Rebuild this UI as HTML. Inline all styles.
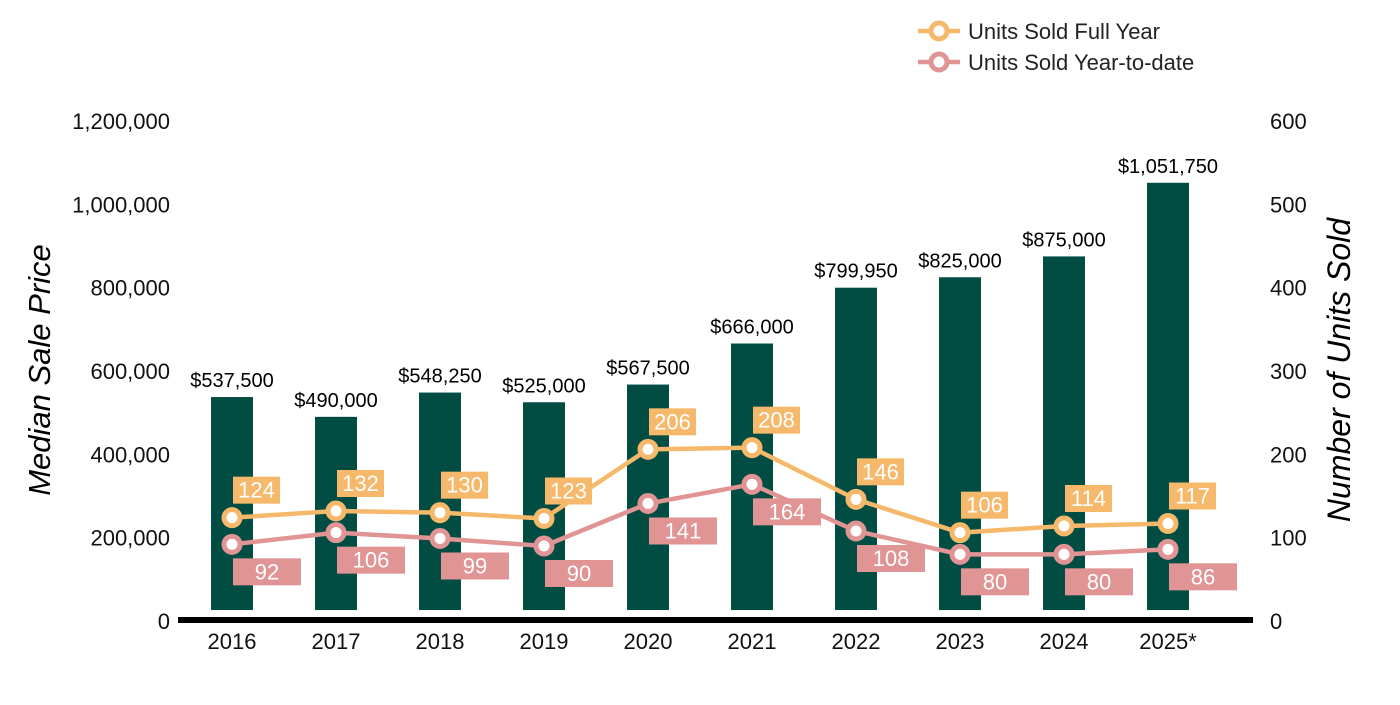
<!DOCTYPE html>
<html><head><meta charset="utf-8"><style>
body{margin:0;background:#fff;font-family:"Liberation Sans",Arial,sans-serif}
svg text{font-family:"Liberation Sans",Arial,sans-serif}
</style></head><body>
<svg width="1400" height="700" viewBox="0 0 1400 700">
<g id="g"></g>
</svg>
<script>
const years=["2016","2017","2018","2019","2020","2021","2022","2023","2024","2025*"];
const prices=[537500,490000,548250,525000,567500,666000,799950,825000,875000,1051750];
const fullYear=[124,132,130,123,206,208,146,106,114,117];
const ytd=[92,106,99,90,141,164,108,80,80,86];
const leftTicks=[0,200000,400000,600000,800000,1000000,1200000];
const rightTicks=[0,100,200,300,400,500,600];
const NS="http://www.w3.org/2000/svg";
const g=document.getElementById('g');
const Y0=621,H=500;
const yL=v=>Y0-v/1200000*H;
const yR=v=>Y0-v/600*H;
const xC=i=>232+i*104;
function el(t,a,txt){const e=document.createElementNS(NS,t);for(const k in a)e.setAttribute(k,a[k]);if(txt!=null)e.textContent=txt;g.appendChild(e);return e;}
const fmt=v=>v.toLocaleString('en-US');
leftTicks.forEach(v=>{const t=el('text',{x:170,y:yL(v)+8,'text-anchor':'end','font-size':22,fill:'#111'},fmt(v));

});
rightTicks.forEach(v=>{const t=el('text',{x:1270,y:yR(v)+8,'font-size':22,fill:'#111'},String(v));

});
let t=el('text',{transform:'translate(50,370) rotate(-90)','text-anchor':'middle','font-size':31,'font-style':'italic',fill:'#000'},'Median Sale Price');


t=el('text',{transform:'translate(1350,370) rotate(-90)','text-anchor':'middle','font-size':32,'font-style':'italic',fill:'#000'},'Number of Units Sold');


prices.forEach((v,i)=>{const b=el('rect',{x:xC(i)-21,y:yL(v),width:42,height:610-yL(v),fill:'#024d43'});


const l=el('text',{x:xC(i),y:yL(v)-10,'text-anchor':'middle','font-size':20,fill:'#000'},'$'+fmt(v));

});
const ax=el('rect',{x:178,y:617,width:1075,height:6,fill:'#000'});


years.forEach((y,i)=>{const l=el('text',{x:xC(i),y:649,'text-anchor':'middle','font-size':22,fill:'#111'},y);

});
function series(data,color,name,above){
 const p=el('polyline',{points:data.map((v,i)=>xC(i)+','+yR(v)).join(' '),fill:'none',stroke:color,'stroke-width':4.5});
 
 
 data.forEach((v,i)=>{const c=el('circle',{cx:xC(i),cy:yR(v),r:8,fill:'#fff',stroke:color,'stroke-width':5});
 
 
 const w=above?47:68, bx=xC(i)+1, by=above?yR(v)-41:yR(v)+14;
 const r=el('rect',{x:bx,y:by,width:w,height:27,fill:color});
 
 
 const tx=el('text',{x:bx+w/2,y:by+21,'text-anchor':'middle','font-size':22,fill:'#fff'},String(v));
 
 });
}
series(ytd,'#e19494','ytd',false);
series(fullYear,'#f6b86b','full-year',true);
[['Units Sold Full Year','#f6b86b',31],['Units Sold Year-to-date','#e19494',62]].forEach(([n,c,y])=>{
 const ln=el('line',{x1:918,x2:960,y1:y,y2:y,stroke:c,'stroke-width':4.5});
 
 
 const ci=el('circle',{cx:939,cy:y,r:8,fill:'#fff',stroke:c,'stroke-width':5});
 
 
 const tx=el('text',{x:968,y:y+8,'font-size':22,fill:'#222'},n);
 
 
});
</script>
</body></html>
